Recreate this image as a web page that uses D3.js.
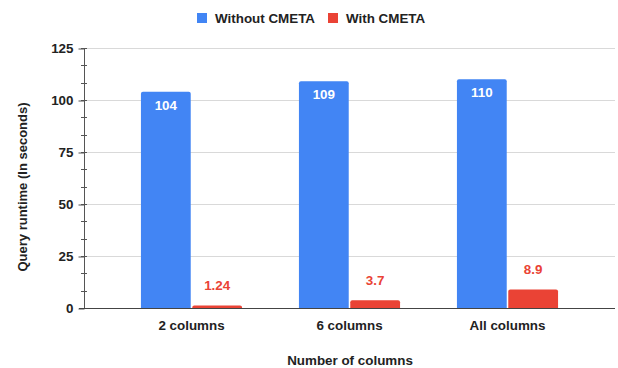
<!DOCTYPE html>
<html>
<head>
<meta charset="utf-8">
<script src="https://cdn.jsdelivr.net/npm/d3@7"></script>
<style>
  html, body { margin: 0; padding: 0; background: #fff; }
  svg { display: block; font-family: "Liberation Sans", Arial, sans-serif; }
</style>
</head>
<body>
<svg id="chart" width="618" height="368"></svg>
<script>
const categories = ["2 columns", "6 columns", "All columns"];
const seriesNames = ["Without CMETA", "With CMETA"];
const withoutCMETA = [104, 109, 110];
const withCMETA = [1.24, 3.7, 8.9];
const valueLabels = [["104", "109", "110"], ["1.24", "3.7", "8.9"]];
const yTicks = [0, 25, 50, 75, 100, 125];
const colors = ["#4285F4", "#EA4335"];

const FONT = "'Liberation Sans', Arial, sans-serif";
const FS = 13.4;
const svg = d3.select("#chart");
const plot = { left: 84, right: 615, top: 48, bottom: 308 };

const y = d3.scaleLinear().domain([0, 125]).range([plot.bottom, plot.top]);
const x0 = d3.scaleBand().domain(categories).range([112.5, 586.5])
  .paddingInner(0.36).paddingOuter(0.18);
const x1 = d3.scaleBand().domain(seriesNames).range([0, x0.bandwidth()]).paddingInner(0.03);

// gridlines
svg.append("g")
  .selectAll("line").data(yTicks.filter(d => d > 0)).join("line")
  .attr("x1", plot.left).attr("x2", plot.right)
  .attr("y1", d => Math.round(y(d)) + 0.5).attr("y2", d => Math.round(y(d)) + 0.5)
  .attr("stroke", "#d9d9d9").attr("stroke-width", 1);

// minor ticks
const minor = d3.range(0, 125.001, 25 / 3);
svg.append("g").selectAll("line").data(minor).join("line")
  .attr("x1", plot.left - 3).attr("x2", plot.left + 3)
  .attr("y1", d => Math.round(y(d)) + 0.5).attr("y2", d => Math.round(y(d)) + 0.5)
  .attr("stroke", "#555").attr("stroke-width", 1);

// y axis
const yAxis = d3.axisLeft(y).tickValues(yTicks).tickSize(6).tickPadding(5);
const gy = svg.append("g").attr("transform", `translate(${plot.left + 0.5},0)`).call(yAxis);
gy.select(".domain").attr("stroke", "#555").attr("d", `M0,${plot.top}V${plot.bottom}`);
gy.selectAll(".tick line").attr("stroke", "#555")
  .attr("transform", d => `translate(0,${Math.round(y(d)) + 0.5 - y(d)})`);
gy.selectAll(".tick text").attr("font-size", FS).attr("font-weight", 700)
  .attr("fill", "#222").attr("font-family", FONT);

// bars
const series = [withoutCMETA, withCMETA];
const groups = svg.append("g").selectAll("g").data(categories).join("g")
  .attr("transform", d => `translate(${x0(d)},0)`);

function barPath(xp, w, top, bottom, r) {
  r = Math.min(r, (bottom - top));
  return `M${xp},${bottom}V${top + r}Q${xp},${top} ${xp + r},${top}H${xp + w - r}Q${xp + w},${top} ${xp + w},${top + r}V${bottom}Z`;
}

groups.each(function(cat, i) {
  const g = d3.select(this);
  seriesNames.forEach((s, si) => {
    const v = series[si][i];
    const bx = x1(s), bw = x1.bandwidth();
    g.append("path")
      .attr("d", barPath(bx, bw, y(v), y(0), 2))
      .attr("fill", colors[si]);
    g.append("text").attr("x", bx + bw / 2)
      .attr("y", si === 0 ? y(v) + 18 : y(v) - 15)
      .attr("text-anchor", "middle").attr("font-size", FS).attr("font-weight", 700)
      .attr("fill", si === 0 ? "#fff" : colors[si]).text(valueLabels[si][i]);
  });
});

// baseline
svg.append("line").attr("x1", plot.left - 5).attr("x2", plot.right)
  .attr("y1", plot.bottom + 0.5).attr("y2", plot.bottom + 0.5)
  .attr("stroke", "#444").attr("stroke-width", 1);

// x labels
const xAxis = d3.axisBottom(x0).tickSize(0).tickPadding(12);
const gx = svg.append("g").attr("transform", `translate(0,${plot.bottom})`).call(xAxis);
gx.select(".domain").remove();
gx.selectAll(".tick text").attr("font-size", FS).attr("font-weight", 700)
  .attr("fill", "#222").attr("font-family", FONT);

// axis titles
svg.append("text").attr("x", 350).attr("y", 365).attr("text-anchor", "middle")
  .attr("font-size", FS).attr("font-weight", 700).attr("fill", "#222")
  .text("Number of columns");
svg.append("text").attr("transform", `translate(27,187) rotate(-90)`)
  .attr("text-anchor", "middle").attr("font-size", 13).attr("font-weight", 700).attr("fill", "#222")
  .text("Query runtime (In seconds)");

// legend
const legendX = [197, 328];
const lg = svg.append("g").selectAll("g").data(seriesNames).join("g")
  .attr("transform", (d, i) => `translate(${legendX[i]},13)`);
lg.append("rect").attr("width", 10).attr("height", 10).attr("fill", (d, i) => colors[i]);
lg.append("text").attr("x", 18).attr("y", 10).attr("font-size", FS).attr("font-weight", 700)
  .attr("fill", "#222").text(d => d);
</script>
</body>
</html>
